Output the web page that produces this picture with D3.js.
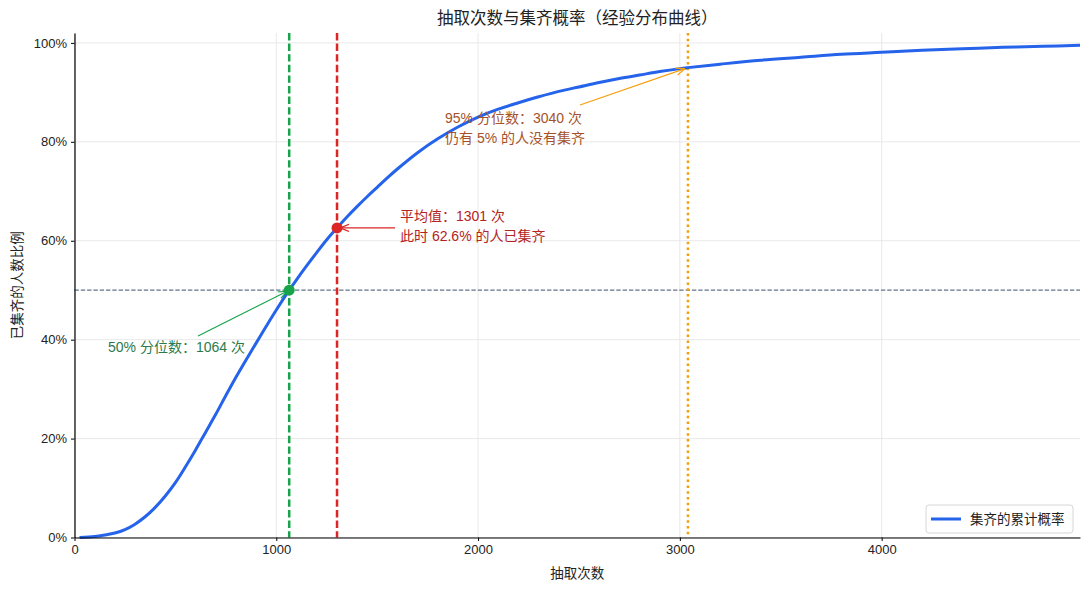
<!DOCTYPE html>
<html>
<head>
<meta charset="utf-8">
<title>抽取次数与集齐概率</title>
<script src="https://d3js.org/d3.v7.min.js"></script>
<style>
  body { margin: 0; background: #fff; }
  svg text { font-family: "Liberation Sans", "Noto Sans CJK SC", sans-serif; fill: #222; }
  .tick line { stroke: #000; stroke-width: 1; }
  .domain { stroke: #000; stroke-width: 1.2; }
  .grid line { stroke: #e6e6e6; stroke-width: 0.9; }
</style>
</head>
<body>
<svg width="1089" height="590"></svg>
<script>
// draws (x) and share of people who completed the set (y)
var draws = [25, 100, 150, 200, 250, 300, 350, 400, 450, 500, 550, 600, 650, 700, 750, 800, 850, 900, 950, 1000,
  1064, 1100, 1150, 1200, 1250, 1301, 1350, 1400, 1450, 1500, 1550, 1600, 1700, 1800, 1900, 2000,
  2100, 2200, 2300, 2400, 2500, 2600, 2700, 2800, 2900, 3000, 3040, 3200, 3400, 3600, 3800, 4000,
  4200, 4400, 4600, 4800, 4983];
var cdf = [0.000, 0.002, 0.005, 0.009, 0.016, 0.027, 0.042, 0.061, 0.084, 0.111, 0.143, 0.177, 0.213, 0.249, 0.287, 0.324, 0.359, 0.393, 0.427, 0.460,
  0.500, 0.521, 0.549, 0.576, 0.602, 0.626, 0.648, 0.669, 0.689, 0.708, 0.727, 0.745, 0.778, 0.806, 0.830, 0.850,
  0.866, 0.879, 0.891, 0.902, 0.911, 0.920, 0.928, 0.935, 0.942, 0.948, 0.950, 0.957, 0.965, 0.971, 0.977, 0.981,
  0.985, 0.988, 0.991, 0.993, 0.995];

var xTicks = [0, 1000, 2000, 3000, 4000];
var yTicks = [0, 0.2, 0.4, 0.6, 0.8, 1.0];

var median = 1064, mean = 1301, meanShare = 0.626, p95 = 3040;

var svg = d3.select("svg");
var pLeft = 74.5, pRight = 1080, pTop = 33, pBottom = 537.5;

var x = d3.scaleLinear().domain([0, 4983]).range([pLeft, pRight]);
var y = d3.scaleLinear().domain([0, 1.02]).range([pBottom, pTop]);

// grid
var grid = svg.append("g").attr("class", "grid");
grid.selectAll(".gx").data(xTicks).enter().append("line")
  .attr("x1", d => x(d)).attr("x2", d => x(d)).attr("y1", pTop).attr("y2", pBottom);
grid.selectAll(".gy").data(yTicks).enter().append("line")
  .attr("x1", pLeft).attr("x2", pRight).attr("y1", d => y(d)).attr("y2", d => y(d));

// reference lines
svg.append("line")
  .attr("x1", pLeft).attr("x2", pRight).attr("y1", y(0.5)).attr("y2", y(0.5))
  .attr("stroke", "#64748b").attr("stroke-width", 1.2).attr("stroke-dasharray", "4.4,1.9");
svg.append("line")
  .attr("x1", x(median)).attr("x2", x(median)).attr("y1", pTop).attr("y2", pBottom)
  .attr("stroke", "#16a34a").attr("stroke-width", 2.5).attr("stroke-dasharray", "7.4,3.2");
svg.append("line")
  .attr("x1", x(mean)).attr("x2", x(mean)).attr("y1", pTop).attr("y2", pBottom)
  .attr("stroke", "#dc2626").attr("stroke-width", 2.5).attr("stroke-dasharray", "7.4,3.2");
svg.append("line")
  .attr("x1", x(p95)).attr("x2", x(p95)).attr("y1", pTop).attr("y2", pBottom)
  .attr("stroke", "#f59e0b").attr("stroke-width", 2.5).attr("stroke-dasharray", "2.5,3.3");

// curve
var line = d3.line().x((d, i) => x(draws[i])).y(d => y(d)).curve(d3.curveCatmullRom.alpha(0.5));
svg.append("path").datum(cdf)
  .attr("d", line).attr("fill", "none")
  .attr("stroke", "#2563eb").attr("stroke-width", 3);

// axes
svg.append("g").attr("transform", "translate(0," + pBottom + ")")
  .call(d3.axisBottom(x).tickValues(xTicks).tickFormat(d3.format("d")).tickSize(3.5).tickPadding(4).tickSizeOuter(0));
svg.append("g").attr("transform", "translate(" + pLeft + ",0)")
  .call(d3.axisLeft(y).tickValues(yTicks).tickFormat(d3.format(".0%")).tickSize(3.5).tickPadding(4).tickSizeOuter(0));
svg.selectAll(".tick text").attr("font-size", 13).style("font-family", null);

// arrow heads
var defs = svg.append("defs");
[["g", "#16a34a"], ["r", "#dc2626"], ["o", "#f59e0b"]].forEach(function(m) {
  defs.append("marker").attr("id", "arr-" + m[0])
    .attr("viewBox", "0 0 10 10").attr("refX", 10).attr("refY", 5)
    .attr("markerWidth", 9).attr("markerHeight", 9).attr("markerUnits", "userSpaceOnUse")
    .attr("orient", "auto")
    .append("path").attr("d", "M0,1 L10,5 L0,9").attr("fill", "none")
    .attr("stroke", m[1]).attr("stroke-width", 1.3);
});

// median annotation
svg.append("line")
  .attr("x1", 198).attr("y1", 336).attr("x2", x(median) - 2).attr("y2", y(0.5) + 1)
  .attr("stroke", "#16a34a").attr("stroke-width", 1.1).attr("marker-end", "url(#arr-g)");
svg.append("circle").attr("cx", x(median)).attr("cy", y(0.5)).attr("r", 5.5).attr("fill", "#16a34a");
svg.append("text").attr("x", 108).attr("y", 352).attr("font-size", 14)
  .style("fill", "#2c7a4b").text("50% 分位数：" + median + " 次");

// mean annotation
svg.append("line")
  .attr("x1", 395).attr("y1", y(meanShare)).attr("x2", x(mean) + 3).attr("y2", y(meanShare))
  .attr("stroke", "#dc2626").attr("stroke-width", 1.1).attr("marker-end", "url(#arr-r)");
svg.append("circle").attr("cx", x(mean)).attr("cy", y(meanShare)).attr("r", 5.5).attr("fill", "#dc2626");
var tm = svg.append("text").attr("font-size", 14).style("fill", "#b42323");
tm.append("tspan").attr("x", 400).attr("y", 221).text("平均值：" + mean + " 次");
tm.append("tspan").attr("x", 400).attr("y", 241).text("此时 " + (meanShare * 100).toFixed(1) + "% 的人已集齐");

// 95% annotation
svg.append("line")
  .attr("x1", 580).attr("y1", 105).attr("x2", x(p95) - 3).attr("y2", y(0.95) + 1)
  .attr("stroke", "#f59e0b").attr("stroke-width", 1.1).attr("marker-end", "url(#arr-o)");
var t9 = svg.append("text").attr("font-size", 14).style("fill", "#a5522a");
t9.append("tspan").attr("x", 445).attr("y", 123).text("95% 分位数：" + p95 + " 次");
t9.append("tspan").attr("x", 445).attr("y", 143).text("仍有 5% 的人没有集齐");

// title and labels
svg.append("text").attr("x", (pLeft + pRight) / 2).attr("y", 24).attr("text-anchor", "middle")
  .attr("font-size", 16.5).text("抽取次数与集齐概率（经验分布曲线）");
svg.append("text").attr("x", (pLeft + pRight) / 2).attr("y", 578).attr("text-anchor", "middle")
  .attr("font-size", 13.5).text("抽取次数");
svg.append("text").attr("transform", "translate(22," + (pTop + pBottom) / 2 + ") rotate(-90)")
  .attr("text-anchor", "middle").attr("font-size", 13.5).text("已集齐的人数比例");

// legend
var lg = svg.append("g").attr("transform", "translate(926,505)");
lg.append("rect").attr("width", 147).attr("height", 28).attr("rx", 3)
  .attr("fill", "#fff").attr("fill-opacity", 0.85).attr("stroke", "#d6d6d6");
lg.append("line").attr("x1", 5).attr("x2", 35).attr("y1", 14).attr("y2", 14)
  .attr("stroke", "#2563eb").attr("stroke-width", 3);
lg.append("text").attr("x", 44).attr("y", 19).attr("font-size", 13.5).text("集齐的累计概率");
</script>
</body>
</html>
